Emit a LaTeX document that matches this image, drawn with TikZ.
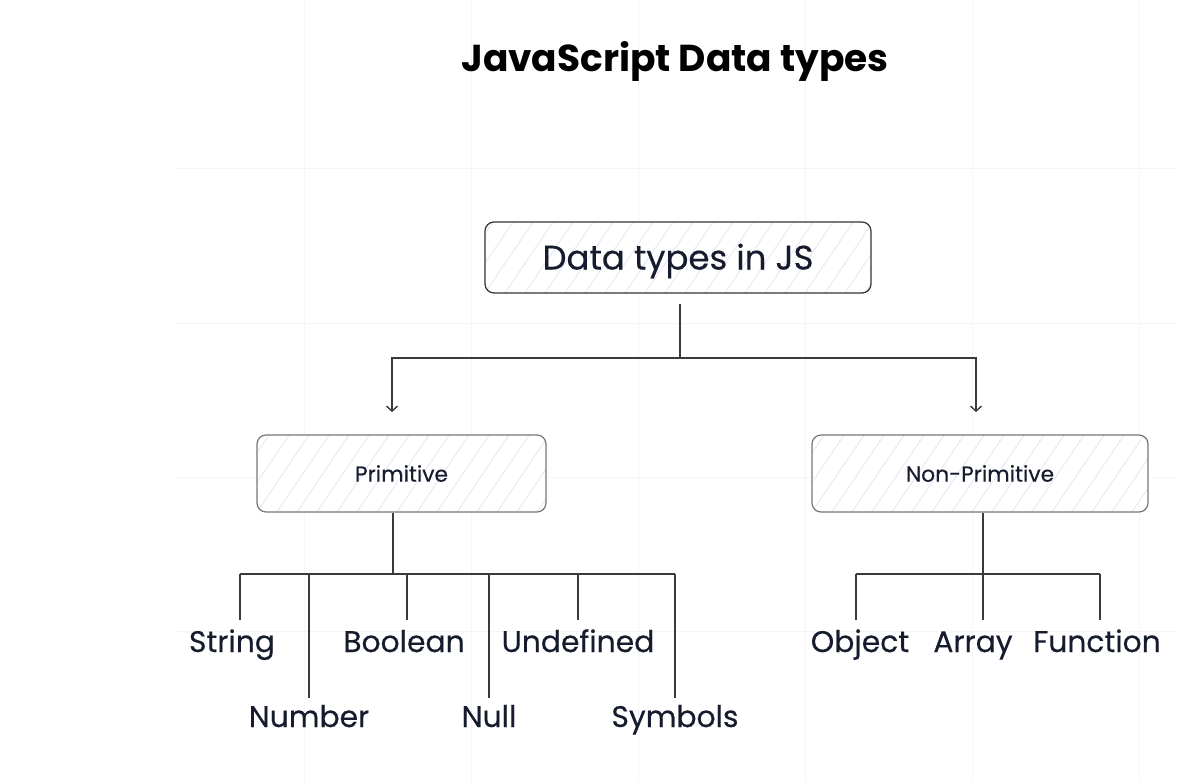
\documentclass[tikz,border=0pt]{standalone}
\usepackage{fontspec}
\setmainfont{Poppins}
\newfontfamily\medfont[FakeBold=0.35]{Poppins}
\usetikzlibrary{arrows.meta}
\definecolor{ink}{HTML}{161C2D}
\definecolor{wirec}{HTML}{3A3A3A}
\definecolor{boxdark}{HTML}{333333}
\definecolor{boxgray}{HTML}{777777}
\definecolor{hatchc}{HTML}{E6E3F8}
\definecolor{gridc}{HTML}{F5F5F7}
\begin{document}
\begin{tikzpicture}[x=1pt,y=-1pt,
  wire/.style={draw=wirec,line width=1.4pt},
  hatchfill/.style={path picture={
      \path (path picture bounding box.south west) coordinate (hsw);
      \foreach \k in {0,...,32}
        \draw[hatchc,line width=0.8pt] ([xshift={(\k*20-120)*1pt}]hsw) -- ++(90pt,133pt);
    }},
  box/.style={draw=#1, rounded corners=9pt, line width=1.2pt, fill=white, hatchfill,
      text=ink, inner sep=0pt},
  lbl/.style={text=ink, font=\medfont\fontsize{29.8}{34}\selectfont, anchor=base, inner sep=0pt},
  arr/.style={wire,-{Straight Barb[length=5pt,width=11pt,line width=1.4pt]}}]
\useasboundingbox (0,0) rectangle (1197,782);
\fill[white] (0,0) rectangle (1197,782);
% faint background grid
\foreach \gx in {304,471,638,805,972,1139}
  \draw[gridc,line width=1pt] (\gx,0) -- (\gx,782);
\foreach \gy in {168,323,477,631}
  \draw[gridc,line width=1pt] (175,\gy) -- (1176,\gy);

% title
\node[font=\bfseries\fontsize{37.5}{42}\selectfont, text=black, anchor=base, inner sep=0pt]
  (title) at (675,71) {JavaScript Data types};

% boxes
\node[box=boxdark, minimum width=386pt, minimum height=71pt, text height=26pt, text depth=2pt,
      font=\medfont\fontsize{34}{38}\selectfont] (top) at (678,257.5) {Data types in JS};
\node[box=boxgray, minimum width=289pt, minimum height=77pt,
      font=\medfont\fontsize{21.8}{26}\selectfont] (prim) at (401.5,473.5) {Primitive};
\node[box=boxgray, minimum width=336pt, minimum height=77pt,
      font=\medfont\fontsize{21.8}{26}\selectfont] (nonprim) at (980,473.5) {Non-Primitive};

% top split
\coordinate (split) at (680,358);
\coordinate (aL) at (392,412);
\coordinate (aR) at (976,412);
\draw[wire] ([yshift=-10pt]split |- top.south) -- (split);
\draw[arr] (split) -| (aL);
\draw[arr] (split) -| (aR);

% primitive leaves
\node[lbl] (string) at (232,652) {String};
\node[lbl] (number) at (309,727) {Number};
\node[lbl] (boolean) at (404,652) {Boolean};
\node[lbl] (null) at (489,727) {Null};
\node[lbl] (undef) at (578,652) {Undefined};
\node[lbl] (symbols) at (675,727) {Symbols};

\coordinate (pb) at (393,574);
\coordinate (dS) at (240,620);
\coordinate (dN) at (309,698);
\coordinate (dB) at (407,620);
\coordinate (dNu) at (489,698);
\coordinate (dU) at (578,620);
\coordinate (dSy) at (675,698);
\draw[wire] (pb |- prim.south) -- (pb);
\draw[wire] (dS |- pb) -- (dSy |- pb);
\foreach \d in {dS,dN,dB,dNu,dU,dSy}
  \draw[wire] (\d |- pb) -- (\d);

% non-primitive leaves
\node[lbl] (object) at (860,652) {Object};
\node[lbl] (array) at (973,652) {Array};
\node[lbl] (function) at (1097,652) {Function};

\coordinate (nb) at (983,574);
\coordinate (dO) at (856,620);
\coordinate (dA) at (983,620);
\coordinate (dF) at (1100,620);
\draw[wire] (nb |- nonprim.south) -- (dA);
\draw[wire] (dO |- nb) -- (dF |- nb);
\draw[wire] (dO |- nb) -- (dO);
\draw[wire] (dF |- nb) -- (dF);
\end{tikzpicture}
\end{document}
